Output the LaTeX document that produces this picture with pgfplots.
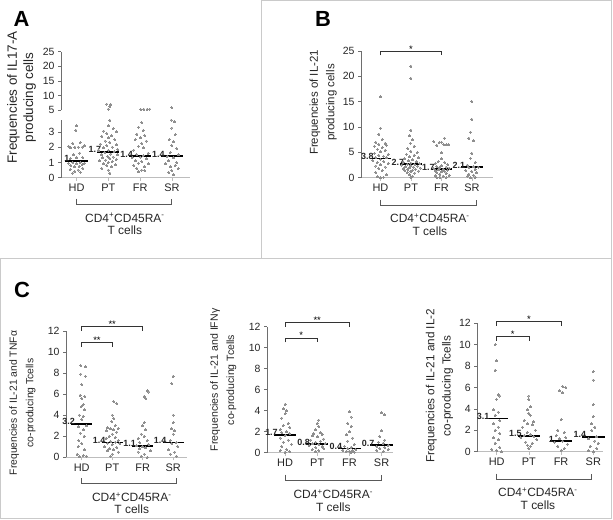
\documentclass[border=0pt]{standalone}
\usepackage{fontspec}
\setmainfont{Liberation Sans}
\usepackage{pgfplots}
\pgfplotsset{compat=1.18}

\definecolor{dotgray}{HTML}{8F8F8F}
\definecolor{axgray}{HTML}{BDBDBD}
\definecolor{yaxgray}{HTML}{6E6E6E}
\definecolor{boxgray}{HTML}{CACACA}

\tikzset{
  medlab/.style={anchor=south east, inner sep=0pt, font=\fontsize{9}{9}\selectfont\bfseries, yshift=-1.2bp, text=black!85},
  sig/.style={draw=black!80, line width=0.7bp},
  star/.style={anchor=base, inner sep=0pt, font=\fontsize{9.5}{9.5}\selectfont, yshift=-0.5bp},
  catbr/.style={draw=black!65, line width=0.8bp},
  grp/.style={font=\fontsize{12}{12.5}\selectfont, align=center, text=black!85, inner sep=0pt},
  letter/.style={font=\fontsize{22}{22}\selectfont\bfseries},
}

\pgfplotsset{
  dotaxis/.style={
    scale only axis, anchor=south west, clip=false,
    axis y line*=left, axis x line*=bottom,
    axis line style={-},
    x axis line style={draw=axgray, line width=1.3bp},
    y axis line style={draw=yaxgray, line width=0.6bp},
    tick align=outside,
    major tick length=3bp,
    ytick style={draw=yaxgray, line width=0.6bp},
    xtick style={draw=axgray, line width=0.6bp},
    xtick={1,2,3,4}, xticklabels={HD,PT,FR,SR},
    /pgf/number format/assume math mode=true,
    yticklabel style={font=\fontsize{10.5}{11}\selectfont, text=black!85},
    xticklabel style={font=\fontsize{11}{11}\selectfont, text=black!85},
    ylabel style={align=center, anchor=center, text=black!85},
  },
  dots/.style={only marks, color=dotgray, mark=*, mark size=1bp, mark options={draw=dotgray, fill=dotgray, line width=0pt}},
  medline/.style={black, line width=1.8bp, no marks, forget plot},
}

\begin{document}
\begin{tikzpicture}
\useasboundingbox (0,0) rectangle (613bp,-520bp);

% panel frames and letters
\begin{scope}[x=1bp,y=-1bp]
\draw[boxgray, line width=0.8bp] (261,0.5) -- (261,258) (0.6,258) -- (611.5,258) -- (611.5,0.5) -- (261,0.5);
\draw[boxgray, line width=0.8bp] (0.6,258) -- (0.6,518) -- (611.5,518) -- (611.5,258);
\node[letter] at (21.5,19) {A};
\node[letter] at (323,19) {B};
\node[letter] at (22,290) {C};
\end{scope}

% ---------------- A: lower part (0 - 3.8)
\begin{axis}[dotaxis, at={(61bp,-177.7bp)}, width=129bp, height=58.1bp,
  xmin=0.51, xmax=4.57, ymin=0, ymax=3.8, ytick={0,1,2,3},
  ylabel={Frequencies of IL17-A\\producing cells},
  ylabel style={at={(axis description cs:-0.306,1.38)}, font=\fontsize{13.5}{16.5}\selectfont}]
\addplot[dots] coordinates {(1.00,3.4) (0.98,3.1) (1.12,2.3) (0.88,2.25) (1.25,2.1) (0.75,2.05) (0.95,2.0) (1.05,2.0) (1.18,2.0) (0.82,1.95) (1.10,1.6) (0.90,1.5) (1.00,1.3) (1.20,1.3) (0.80,1.25) (1.12,1.0) (0.88,1.0) (1.25,0.95) (0.75,0.95) (1.00,0.9) (1.18,0.85) (0.82,0.8) (1.08,0.75) (0.92,0.7) (1.20,0.6) (0.80,0.55) (1.05,0.5) (0.95,0.4) (1.12,0.35) (0.88,0.3)};
\addplot[dots] coordinates {(2.05,3.75) (2.00,3.4) (2.15,3.2) (1.85,3.05) (2.25,3.0) (1.95,2.9) (2.10,2.75) (1.80,2.7) (2.00,2.6) (2.20,2.5) (1.90,2.4) (2.05,2.3) (1.75,2.2) (2.25,2.15) (1.95,2.1) (2.12,2.0) (1.85,1.95) (2.30,1.85) (2.00,1.8) (1.70,1.75) (2.18,1.7) (1.88,1.65) (2.08,1.55) (1.78,1.5) (2.28,1.5) (1.98,1.4) (2.15,1.35) (1.82,1.3) (2.05,1.25) (2.25,1.2) (1.92,1.15) (1.72,1.1) (2.12,1.05) (2.00,1.0) (1.85,0.9) (2.22,0.85) (1.95,0.8) (2.10,0.7) (1.80,0.6) (2.00,0.5) (2.05,0.3)};
\addplot[dots] coordinates {(3.05,3.6) (2.95,3.3) (3.10,3.1) (2.90,2.85) (3.15,2.75) (3.00,2.6) (2.85,2.5) (3.20,2.4) (3.05,2.25) (2.95,2.05) (3.10,1.95) (2.80,1.8) (3.25,1.6) (2.90,1.5) (3.10,1.45) (3.00,1.35) (2.75,1.3) (3.20,1.25) (2.85,1.1) (3.05,1.05) (2.95,0.95) (3.25,0.9) (2.80,0.8) (3.15,0.7) (2.90,0.6) (3.05,0.5) (2.95,0.4) (3.15,0.45)};
\addplot[dots] coordinates {(3.98,3.77) (4.08,3.66) (4.00,3.25) (4.10,2.8) (3.92,2.5) (4.05,2.35) (4.00,2.1) (4.15,1.9) (3.95,1.65) (4.20,1.5) (3.85,1.4) (4.05,1.3) (3.90,1.1) (4.15,1.0) (3.80,0.9) (4.10,0.8) (3.95,0.7) (4.20,0.6) (4.00,0.45) (3.90,0.35) (4.05,0.2)};
\addplot[medline] coordinates {(0.65,1.1) (1.35,1.1)};
\addplot[medline] coordinates {(1.65,1.7) (2.35,1.7)};
\addplot[medline] coordinates {(2.65,1.4) (3.35,1.4)};
\addplot[medline] coordinates {(3.65,1.4) (4.35,1.4)};
\node[medlab] at (axis cs:0.78,1.1) {1};
\node[medlab] at (axis cs:1.78,1.7) {1.7};
\node[medlab] at (axis cs:2.78,1.4) {1.4};
\node[medlab] at (axis cs:3.78,1.4) {1.4};
\draw[catbr] ([yshift=-21bp]axis cs:1,0) -- ([yshift=-26.3bp]axis cs:1,0) -- ([yshift=-26.3bp]axis cs:4,0) -- ([yshift=-21bp]axis cs:4,0);
\node[grp] at ([yshift=-46.3bp]axis cs:2.52,0) {CD4\textsuperscript{+}CD45RA\textsuperscript{-}\\T cells};
\end{axis}

% ---------------- A: upper part (5 - 25)
\begin{axis}[dotaxis, at={(61bp,-110bp)}, width=129bp, height=58.3bp,
  axis x line=none,
  xmin=0.51, xmax=4.57, ymin=5, ymax=25, ytick={5,10,15,20,25}]
\addplot[dots] coordinates {(1.95,7.0) (2.08,6.9) (2.05,6.2) (2.00,5.3)};
\addplot[dots] coordinates {(3.02,5.2) (3.12,5.2) (3.22,5.25) (3.30,5.3)};
\addplot[dots] coordinates {(4.00,5.8)};
\end{axis}

% ---------------- B
\begin{axis}[dotaxis, at={(361bp,-177.7bp)}, width=132bp, height=126.7bp,
  xmin=0.361, xmax=4.689, ymin=0, ymax=25, ytick={0,5,10,15,20,25},
  ylabel={Frequencies of IL-21\\producing cells},
  ylabel style={at={(axis description cs:-0.286,0.594)}, font=\fontsize{11.5}{16.5}\selectfont}]
\addplot[dots] coordinates {(1.00,16.0) (1.00,9.8) (0.95,8.6) (1.05,7.5) (0.85,7.0) (1.15,6.8) (0.95,6.6) (1.20,6.4) (0.80,6.2) (1.05,5.9) (0.90,5.6) (1.15,5.4) (1.00,5.1) (0.80,4.8) (1.25,4.6) (0.95,4.4) (1.10,4.2) (0.85,4.0) (1.20,3.9) (1.00,3.6) (0.75,3.4) (1.10,3.2) (0.90,3.0) (1.25,2.8) (1.00,2.6) (0.85,2.3) (1.15,2.1) (0.95,1.8) (1.05,1.4) (0.85,1.0) (1.20,0.6) (0.90,0.2) (1.00,0.0) (1.10,0.05)};
\addplot[dots] coordinates {(2.00,22.0) (2.00,19.6) (2.00,9.4) (1.95,8.3) (2.05,7.5) (1.98,6.8) (2.10,6.2) (1.90,5.7) (2.00,5.2) (2.20,4.9) (1.85,4.6) (2.10,4.4) (1.95,4.1) (2.25,3.9) (1.80,3.7) (2.05,3.5) (1.92,3.3) (2.18,3.1) (1.75,3.0) (2.00,2.9) (2.28,2.8) (1.88,2.7) (2.12,2.6) (1.70,2.5) (2.00,2.4) (2.22,2.3) (1.82,2.2) (2.08,2.1) (1.95,2.0) (2.30,1.9) (1.75,1.8) (2.15,1.7) (1.90,1.6) (2.05,1.5) (1.80,1.4) (2.25,1.3) (2.00,1.2) (1.88,1.0) (2.12,0.9) (1.95,0.6) (2.05,0.3) (2.00,0.0)};
\addplot[dots] coordinates {(3.10,7.8) (2.75,7.1) (3.00,7.0) (2.92,6.9) (3.08,6.5) (3.16,6.5) (3.24,6.5) (2.85,6.4) (3.00,4.9) (3.00,3.7) (2.90,3.2) (3.10,3.0) (2.80,2.8) (3.20,2.6) (3.00,2.4) (2.85,2.2) (3.15,2.1) (2.95,2.0) (3.25,1.9) (2.75,1.8) (3.05,1.7) (2.90,1.6) (3.20,1.5) (2.80,1.4) (3.10,1.3) (3.00,1.2) (2.85,1.0) (3.15,0.9) (2.95,0.7) (3.25,0.5) (2.80,0.4) (3.05,0.3) (2.95,0.1) (3.15,0.0) (2.85,0.0)};
\addplot[dots] coordinates {(4.00,15.0) (4.00,11.5) (3.95,9.0) (3.90,7.8) (4.05,7.3) (4.00,4.8) (3.95,3.8) (4.10,3.0) (3.85,2.5) (4.05,2.2) (4.20,2.1) (3.90,2.0) (4.10,1.7) (3.80,1.4) (4.00,1.2) (4.15,1.0) (3.90,0.7) (4.05,0.5) (3.85,0.3) (4.10,0.1) (3.95,0.0)};
\addplot[medline] coordinates {(0.65,3.8) (1.35,3.8)};
\addplot[medline] coordinates {(1.65,2.7) (2.35,2.7)};
\addplot[medline] coordinates {(2.65,1.7) (3.35,1.7)};
\addplot[medline] coordinates {(3.65,2.1) (4.35,2.1)};
\node[medlab] at (axis cs:0.78,3.8) {3.8};
\node[medlab] at (axis cs:1.78,2.7) {2.7};
\node[medlab] at (axis cs:2.78,1.7) {1.7};
\node[medlab] at (axis cs:3.78,2.1) {2.1};
\draw[sig] ([yshift=-3.5bp]axis cs:1,24.85) -- (axis cs:1,24.85) -- (axis cs:3,24.85) -- ([yshift=-3.5bp]axis cs:3,24.85);
\node[star] at (axis cs:2,24.85) {*};
\draw[catbr] ([yshift=-22bp]axis cs:1,0) -- ([yshift=-27.3bp]axis cs:1,0) -- ([yshift=-27.3bp]axis cs:4.15,0) -- ([yshift=-22bp]axis cs:4.15,0);
\node[grp] at ([yshift=-47bp]axis cs:2.62,0) {CD4\textsuperscript{+}CD45RA\textsuperscript{-}\\T cells};
\end{axis}

% ---------------- C1: IL-21 and TNFa
\begin{axis}[dotaxis, at={(66bp,-457.3bp)}, width=121bp, height=126.3bp,
  xmin=0.485, xmax=4.452, ymin=0, ymax=12, ytick={0,2,4,6,8,10,12},
  ylabel={Frequencies of IL-21 and TNFα\\co-producing Tcells},
  ylabel style={at={(axis description cs:-0.36,0.43)}, font=\fontsize{10.4}{16.5}\selectfont}]
\addplot[dots] coordinates {(0.97,8.7) (1.12,8.6) (0.97,7.9) (1.12,7.7) (1.00,6.9) (0.95,5.9) (1.10,5.8) (1.00,5.6) (1.05,5.0) (0.98,4.8) (1.10,4.5) (0.92,4.0) (1.05,3.9) (1.00,3.6) (1.15,3.0) (0.90,2.9) (1.05,2.6) (0.95,2.3) (1.08,2.0) (0.90,1.6) (1.00,1.3) (0.88,1.0) (1.10,0.7) (0.85,0.3) (1.05,0.15) (0.92,0.05) (1.15,0.1)};
\addplot[dots] coordinates {(2.05,5.3) (2.15,5.1) (2.00,4.0) (2.05,3.7) (1.98,3.4) (2.10,3.0) (1.85,2.8) (2.20,2.75) (1.95,2.7) (2.05,2.6) (1.80,2.5) (2.15,2.4) (2.00,2.2) (1.90,2.0) (2.10,1.9) (1.80,1.8) (2.20,1.6) (1.95,1.5) (2.10,1.45) (1.85,1.35) (2.25,1.3) (2.00,1.2) (1.75,1.0) (2.15,0.95) (1.90,0.8) (2.05,0.7) (1.85,0.6) (2.20,0.5) (2.00,0.3) (1.95,0.1)};
\addplot[dots] coordinates {(3.15,6.3) (3.20,6.2) (3.05,5.8) (3.10,5.6) (3.05,3.3) (3.00,3.0) (3.10,2.6) (2.95,2.2) (3.05,2.0) (2.85,1.8) (3.15,1.6) (2.90,1.4) (3.20,1.2) (2.80,1.1) (3.00,1.0) (3.10,0.9) (2.90,0.8) (3.25,0.6) (2.85,0.5) (3.05,0.3) (2.95,0.1) (3.15,0.0)};
\addplot[dots] coordinates {(4.00,7.7) (3.95,7.0) (4.00,4.0) (4.00,3.3) (3.95,2.7) (4.05,2.5) (4.00,2.2) (3.90,1.6) (4.10,1.4) (3.95,1.3) (4.15,1.0) (3.85,0.7) (4.05,0.5) (3.90,0.3) (4.10,0.1)};
\addplot[medline] coordinates {(0.65,3.2) (1.35,3.2)};
\addplot[medline] coordinates {(1.65,1.4) (2.35,1.4)};
\addplot[medline] coordinates {(2.65,1.1) (3.35,1.1)};
\addplot[medline] coordinates {(3.65,1.4) (4.35,1.4)};
\node[medlab] at (axis cs:0.78,3.2) {3.2};
\node[medlab] at (axis cs:1.78,1.4) {1.4};
\node[medlab] at (axis cs:2.78,1.1) {1.1};
\node[medlab] at (axis cs:3.78,1.4) {1.4};
\draw[sig] ([yshift=-4bp]axis cs:1,12.42) -- (axis cs:1,12.42) -- (axis cs:3,12.42) -- ([yshift=-4bp]axis cs:3,12.42);
\node[star] at (axis cs:2,12.42) {**};
\draw[sig] ([yshift=-4bp]axis cs:1,10.9) -- (axis cs:1,10.9) -- (axis cs:2,10.9) -- ([yshift=-4bp]axis cs:2,10.9);
\node[star] at (axis cs:1.5,10.9) {**};
\draw[catbr] ([yshift=-20.7bp]axis cs:1,0) -- ([yshift=-26bp]axis cs:1,0) -- ([yshift=-26bp]axis cs:4.1,0) -- ([yshift=-20.7bp]axis cs:4.1,0);
\node[grp] at ([yshift=-46bp]axis cs:2.64,0) {CD4\textsuperscript{+}CD45RA\textsuperscript{-}\\T cells};
\end{axis}

% ---------------- C2: IL-21 and IFNg
\begin{axis}[dotaxis, at={(267bp,-452.7bp)}, width=126bp, height=126bp,
  xmin=0.441, xmax=4.354, ymin=0, ymax=12, ytick={0,2,4,6,8,10,12},
  ylabel={Frequencies of IL-21 and IFNγ\\co-producing Tcells},
  ylabel style={at={(axis description cs:-0.347,0.577)}, font=\fontsize{10.6}{16.5}\selectfont}]
\addplot[dots] coordinates {(1.00,4.6) (0.95,4.2) (1.05,4.0) (1.00,3.7) (0.90,3.3) (1.10,2.8) (0.95,2.6) (1.15,2.4) (0.85,2.2) (1.05,2.0) (0.90,1.9) (1.15,1.8) (1.00,1.6) (0.85,1.4) (1.10,1.2) (0.95,1.0) (1.20,0.8) (0.90,0.6) (1.05,0.3) (0.85,0.2) (1.15,0.1) (1.00,0.05)};
\addplot[dots] coordinates {(2.05,3.1) (2.00,2.8) (2.05,2.5) (1.95,2.2) (2.10,1.9) (1.90,1.8) (2.15,1.7) (1.85,1.6) (2.00,1.5) (2.20,1.3) (1.80,1.2) (2.10,1.1) (1.95,1.0) (2.25,0.9) (1.85,0.85) (2.05,0.8) (1.75,0.7) (2.15,0.6) (1.95,0.5) (2.20,0.4) (1.85,0.3) (2.05,0.2) (1.95,0.1)};
\addplot[dots] coordinates {(3.00,3.9) (3.05,3.4) (2.95,2.8) (3.05,2.5) (3.00,2.0) (2.90,1.7) (3.10,1.4) (2.95,1.1) (3.15,0.8) (2.85,0.6) (3.05,0.5) (2.95,0.4) (3.20,0.3) (2.80,0.25) (3.10,0.2) (3.00,0.15) (2.90,0.1) (3.15,0.05) (3.05,0.0)};
\addplot[dots] coordinates {(4.00,3.8) (4.10,3.6) (4.00,2.1) (3.95,1.5) (4.10,1.2) (3.90,1.0) (4.05,0.9) (4.20,0.7) (3.85,0.6) (4.10,0.5) (3.95,0.4) (4.20,0.3) (3.85,0.2) (4.05,0.1)};
\addplot[medline] coordinates {(0.65,1.7) (1.35,1.7)};
\addplot[medline] coordinates {(1.65,0.8) (2.35,0.8)};
\addplot[medline] coordinates {(2.65,0.4) (3.35,0.4)};
\addplot[medline] coordinates {(3.65,0.7) (4.35,0.7)};
\node[medlab] at (axis cs:0.78,1.7) {1.7};
\node[medlab] at (axis cs:1.78,0.8) {0.8};
\node[medlab] at (axis cs:2.78,0.4) {0.4};
\node[medlab] at (axis cs:3.78,0.7) {0.7};
\draw[sig] ([yshift=-4bp]axis cs:1,12.4) -- (axis cs:1,12.4) -- (axis cs:3,12.4) -- ([yshift=-4bp]axis cs:3,12.4);
\node[star] at (axis cs:2,12.4) {**};
\draw[sig] ([yshift=-4bp]axis cs:1,10.88) -- (axis cs:1,10.88) -- (axis cs:2,10.88) -- ([yshift=-4bp]axis cs:2,10.88);
\node[star] at (axis cs:1.5,10.88) {*};
\draw[catbr] ([yshift=-22bp]axis cs:1,0) -- ([yshift=-27.3bp]axis cs:1,0) -- ([yshift=-27.3bp]axis cs:4,0) -- ([yshift=-22bp]axis cs:4,0);
\node[grp] at ([yshift=-48bp]axis cs:2.5,0) {CD4\textsuperscript{+}CD45RA\textsuperscript{-}\\T cells};
\end{axis}

% ---------------- C3: IL-21 and IL-2
\begin{axis}[dotaxis, at={(477.3bp,-451.7bp)}, width=125.7bp, height=128.4bp,
  xmin=0.398, xmax=4.301, ymin=0, ymax=12, ytick={0,2,4,6,8,10,12},
  ylabel={Frequencies of IL-21 and IL-2\\co-producing Tcells},
  ylabel style={at={(axis description cs:-0.301,0.513)}, font=\fontsize{11.8}{16.5}\selectfont}]
\addplot[dots] coordinates {(0.95,10.0) (1.00,8.5) (0.95,7.6) (1.05,5.3) (1.10,5.2) (1.00,4.9) (0.90,3.9) (1.05,3.7) (0.95,3.4) (1.10,2.9) (0.90,2.6) (1.05,2.3) (0.95,2.0) (1.10,1.7) (0.90,1.3) (1.05,1.1) (0.95,0.8) (1.10,0.4) (0.85,0.2) (1.00,0.1) (1.15,0.0)};
\addplot[dots] coordinates {(2.00,5.2) (2.00,4.9) (2.05,4.2) (1.95,3.9) (2.00,3.6) (2.05,3.4) (1.85,2.9) (2.15,2.8) (1.95,2.6) (2.10,2.5) (1.80,2.3) (2.20,2.0) (1.95,1.8) (2.05,1.6) (1.85,1.5) (2.15,1.4) (1.75,1.3) (2.25,1.1) (1.90,0.9) (2.10,0.8) (1.95,0.6) (2.05,0.5) (2.00,0.3)};
\addplot[dots] coordinates {(3.05,6.1) (3.15,6.0) (2.95,5.7) (3.05,5.5) (3.00,3.0) (2.90,2.0) (3.10,1.8) (2.85,1.5) (3.15,1.3) (2.95,1.2) (3.05,1.0) (2.80,0.9) (3.20,0.7) (2.90,0.5) (3.10,0.3) (3.00,0.1)};
\addplot[dots] coordinates {(4.00,7.5) (4.00,6.7) (4.00,4.4) (4.00,3.3) (3.95,2.6) (4.05,2.3) (3.95,2.0) (4.10,1.4) (3.85,1.2) (4.05,1.0) (4.15,0.8) (3.90,0.5) (4.10,0.3) (3.85,0.1) (4.00,0.0)};
\addplot[medline] coordinates {(0.65,3.1) (1.35,3.1)};
\addplot[medline] coordinates {(1.65,1.5) (2.35,1.5)};
\addplot[medline] coordinates {(2.65,1.0) (3.35,1.0)};
\addplot[medline] coordinates {(3.65,1.4) (4.35,1.4)};
\node[medlab] at (axis cs:0.78,3.1) {3.1};
\node[medlab] at (axis cs:1.78,1.5) {1.5};
\node[medlab] at (axis cs:2.78,1.0) {1};
\node[medlab] at (axis cs:3.78,1.4) {1.4};
\draw[sig] ([yshift=-4bp]axis cs:1,12.15) -- (axis cs:1,12.15) -- (axis cs:3,12.15) -- ([yshift=-4bp]axis cs:3,12.15);
\node[star] at (axis cs:2,12.15) {*};
\draw[sig] ([yshift=-4bp]axis cs:1,10.75) -- (axis cs:1,10.75) -- (axis cs:2,10.75) -- ([yshift=-4bp]axis cs:2,10.75);
\node[star] at (axis cs:1.5,10.75) {*};
\draw[catbr] ([yshift=-22bp]axis cs:1,0) -- ([yshift=-27.6bp]axis cs:1,0) -- ([yshift=-27.6bp]axis cs:3.95,0) -- ([yshift=-22bp]axis cs:3.95,0);
\node[grp] at ([yshift=-46.7bp]axis cs:2.28,0) {CD4\textsuperscript{+}CD45RA\textsuperscript{-}\\T cells};
\end{axis}
\end{tikzpicture}
\end{document}
